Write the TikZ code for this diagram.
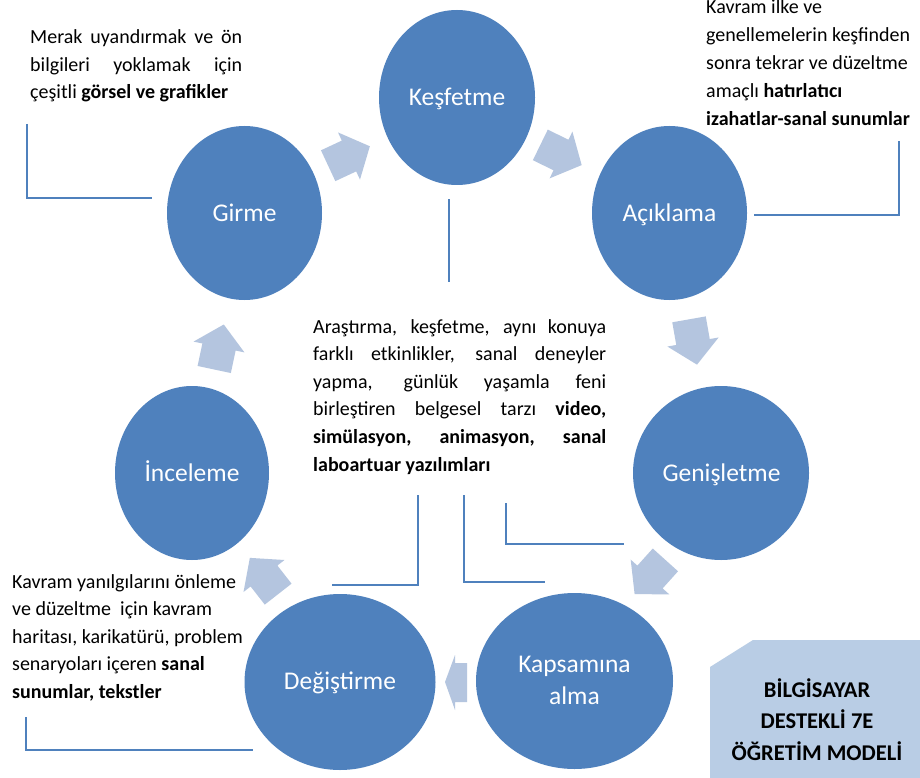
\documentclass[tikz,border=0pt]{standalone}
\usepackage{fontspec}
\setmainfont{Carlito}
\usetikzlibrary{shapes.geometric}
\definecolor{bubblue}{HTML}{4F81BD}
\definecolor{arrblue}{HTML}{B4C5DF}
\definecolor{boxblue}{HTML}{B9CDE5}
\hyphenpenalty=10000
\exhyphenpenalty=10000
\tikzset{
  cycarrow/.pic={\fill[arrblue] (-23,-17) -- (0,-17) -- (0,-26) -- (23,0) -- (0,26) -- (0,17) -- (-23,17) -- cycle;}
}
\begin{document}
\begin{tikzpicture}[x=1pt,y=-1pt,
  bub/.style={ellipse, fill=bubblue, draw=none, inner sep=0pt},
  lbl/.style={text=white, font=\fontsize{25.5}{32}\selectfont, anchor=base, inner sep=0pt},
  bodytext/.style={font=\fontsize{20}{27.6}\selectfont, anchor=base west, inner sep=0pt},
  conn/.style={draw=bubblue, line width=1.8pt, line join=miter},
]
\useasboundingbox (0,0) rectangle (920,778);
\fill[white] (0,0) rectangle (920,778);

% cycle arrows
\pic[rotate=25] at (349,156) {cycarrow};
\pic[rotate=-26] at (561,155) {cycarrow};
\pic[rotate=-80] at (693,342) {cycarrow};
\pic[rotate=-132] at (650,577) {cycarrow};
\pic[rotate=128] at (264,576) {cycarrow};
\pic[rotate=78] at (219,347) {cycarrow};
\fill[arrblue] (445,682) -- (455,655) -- (455,663) -- (467,663) -- (467,702) -- (455,702) -- (455,710) -- cycle;

% bubbles
\node[bub, minimum width=155pt, minimum height=174pt] (girme) at (244.5,213) {};
\node[bub, minimum width=156pt, minimum height=175pt] (kesfetme) at (457,97.5) {};
\node[bub, minimum width=155pt, minimum height=174pt] (aciklama) at (669.5,213) {};
\node[bub, minimum width=176pt, minimum height=174pt] (genisletme) at (721,473) {};
\node[bub, minimum width=154pt, minimum height=174pt] (inceleme) at (192,473) {};
\node[bub, minimum width=191pt, minimum height=176pt] (degistirme) at (340,682) {};
\node[bub, minimum width=197pt, minimum height=176pt] (kapsamina) at (574.5,681) {};

\node[lbl] (girmel) at (244.5,221) {Girme};
\node[lbl] (kesfetmel) at (457,105.5) {Keşfetme};
\node[lbl] (aciklamal) at (669.5,221) {Açıklama};
\node[lbl] (genisletmel) at (721.5,481) {Genişletme};
\node[lbl] (incelemel) at (192,481) {İnceleme};
\node[lbl] (degistirmel) at (340,689.5) {Değiştirme};
\node[lbl, text width=190pt, align=flush center] (kapsaminal) at (574.5,672) {Kapsamına\\alma};

% bracket lines
\coordinate (l1a) at (27,124); \coordinate (l1b) at (27,198); \coordinate (l1c) at (152,198);
\draw[conn] (l1a) -- (l1b) -- (l1c);
\coordinate (l2a) at (449,199); \coordinate (l2b) at (449,282);
\draw[conn] (l2a) -- (l2b);
\coordinate (l3a) at (754,215); \coordinate (l3b) at (899,215); \coordinate (l3c) at (899,141);
\draw[conn] (l3a) -- (l3b) -- (l3c);
\coordinate (l4a) at (418,495); \coordinate (l4b) at (418,585); \coordinate (l4c) at (332,585);
\draw[conn] (l4a) -- (l4b) -- (l4c);
\coordinate (l5a) at (464,495); \coordinate (l5b) at (464,582); \coordinate (l5c) at (545,582);
\draw[conn] (l5a) -- (l5b) -- (l5c);
\coordinate (l6a) at (506,503); \coordinate (l6b) at (506,544); \coordinate (l6c) at (624,544);
\draw[conn] (l6a) -- (l6b) -- (l6c);
\coordinate (l7a) at (26,717); \coordinate (l7b) at (26,750); \coordinate (l7c) at (253,750);
\draw[conn] (l7a) -- (l7b) -- (l7c);

% texts
\node[bodytext, text width=212pt, align=justify, font=\fontsize{20}{27.5}\selectfont] (tl) at (30,44)
  {Merak uyandırmak ve ön\linebreak bilgileri yoklamak için\linebreak çeşitli \textbf{görsel ve grafikler}};
\node[bodytext, text width=212pt, align=flush left, font=\fontsize{20}{28}\selectfont] (tr) at (706,14)
  {Kavram ilke ve\\genellemelerin keşfinden\\sonra tekrar ve düzeltme\\amaçlı \textbf{hatırlatıcı}\\\textbf{izahatlar-sanal sunumlar}};
\node[bodytext, text width=293pt, align=justify] (ct) at (313,333)
  {Araştırma, keşfetme, aynı konuya\linebreak farklı etkinlikler, sanal deneyler\linebreak yapma, günlük yaşamla feni\linebreak birleştiren belgesel tarzı \textbf{video,}\linebreak \textbf{simülasyon, animasyon, sanal}\linebreak \textbf{laboartuar yazılımları}};
\node[bodytext, text width=240pt, align=flush left, font=\fontsize{20}{27.5}\selectfont] (bl) at (12,588)
  {Kavram yanılgılarını önleme\\ve düzeltme \ için kavram\\haritası, karikatürü, problem\\senaryoları içeren \textbf{sanal}\\\textbf{sunumlar, tekstler}};

% title box
\fill[boxblue] (710,667) -- (753,640) -- (920,640) -- (920,778) -- (710,778) -- cycle;
\node[font=\bfseries\fontsize{22.5}{31.5}\selectfont, text width=200pt, align=flush center, anchor=base, inner sep=0pt] (title) at (817,697)
  {BİLGİSAYAR\\DESTEKLİ 7E\\ÖĞRETİM MODELİ};
\end{tikzpicture}
\end{document}
